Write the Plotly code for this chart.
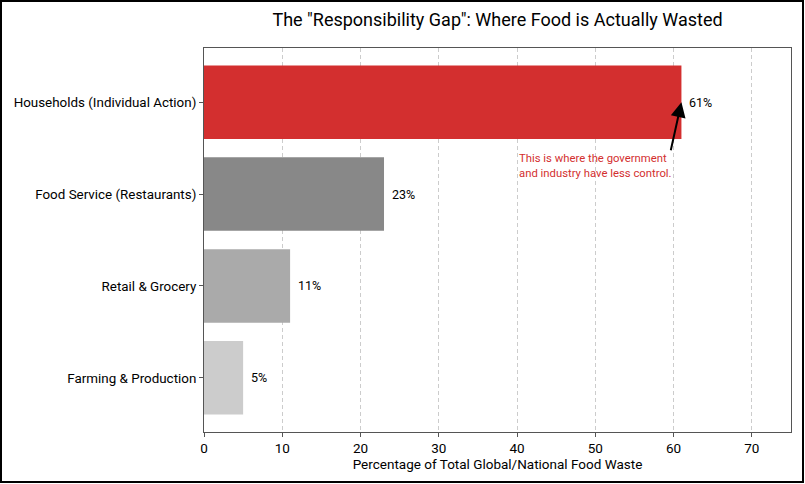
import plotly.graph_objects as go

categories = ["Households (Individual Action)", "Food Service (Restaurants)",
              "Retail & Grocery", "Farming & Production"]
values = [61, 23, 11, 5]
colors = ["#d32f2f", "#888888", "#aaaaaa", "#cccccc"]
value_labels = ["61%", "23%", "11%", "5%"]
x_ticks = [0, 10, 20, 30, 40, 50, 60, 70]

FONT = "Roboto"

fig = go.Figure()
fig.add_trace(go.Bar(
    y=categories, x=values, orientation="h",
    marker=dict(color=colors, line=dict(width=0)),
    width=0.8, showlegend=False, hoverinfo="skip",
))

for cat, v, lab in zip(categories, values, value_labels):
    fig.add_annotation(x=v, y=cat, text=lab, showarrow=False,
                       xanchor="left", yanchor="middle", xshift=6,
                       font=dict(family=FONT, size=12.5, color="black"))

# arrow
fig.add_annotation(x=61, y=0.0, ax=59.6, ay=0.54, axref="x", ayref="y",
                   xref="x", yref="y", text="", showarrow=True,
                   arrowhead=2, arrowsize=1.5, arrowwidth=2, arrowcolor="black")
# callout text
fig.add_annotation(x=40, y=0.69, xref="x", yref="y", xanchor="left", yanchor="middle",
                   align="left", showarrow=False,
                   text="This is where the government<br>and industry have less control.",
                   font=dict(family=FONT, size=11.3, color="#d32f2f"))

# outer border
fig.add_shape(type="rect", xref="paper", yref="paper",
              x0=(1 - 204) / 587, x1=(803 - 204) / 587,
              y0=(432 - 482) / 384, y1=(432 - 1) / 384,
              line=dict(color="black", width=2), fillcolor="rgba(0,0,0,0)", layer="above")

fig.update_layout(
    width=805, height=484,
    margin=dict(l=204, r=14, t=48, b=52),
    paper_bgcolor="white", plot_bgcolor="white",
    font=dict(family=FONT, size=13, color="black"),
    title=dict(text='The "Responsibility Gap": Where Food is Actually Wasted',
               x=(204 + 791) / 2 / 805, xanchor="center",
               y=1 - 20 / 484, yanchor="middle", yref="container",
               font=dict(family=FONT, size=18, color="black")),
    bargap=0.2,
)
fig.update_xaxes(range=[0, 75], tickvals=x_ticks, showgrid=True,
                 gridcolor="#cccccc", griddash="4px,3px", gridwidth=1,
                 showline=True, linecolor="#555555", linewidth=1, mirror=True,
                 ticks="outside", ticklen=4, tickcolor="#555555",
                 tickfont=dict(family=FONT, size=13.5),
                 title=dict(text="Percentage of Total Global/National Food Waste",
                            font=dict(family=FONT, size=13.5), standoff=4),
                 zeroline=False, layer="above traces")
fig.update_yaxes(type="category", categoryorder="array", categoryarray=categories,
                 range=[3.59, -0.59], showgrid=False,
                 showline=True, linecolor="#555555", linewidth=1, mirror=True,
                 ticks="outside", ticklen=4, tickcolor="#555555",
                 tickfont=dict(family=FONT, size=13.4), layer="above traces")

fig.write_html("out.html", config={"displayModeBar": False},
               post_script="document.body.style.margin='0';document.body.style.padding='0';")
